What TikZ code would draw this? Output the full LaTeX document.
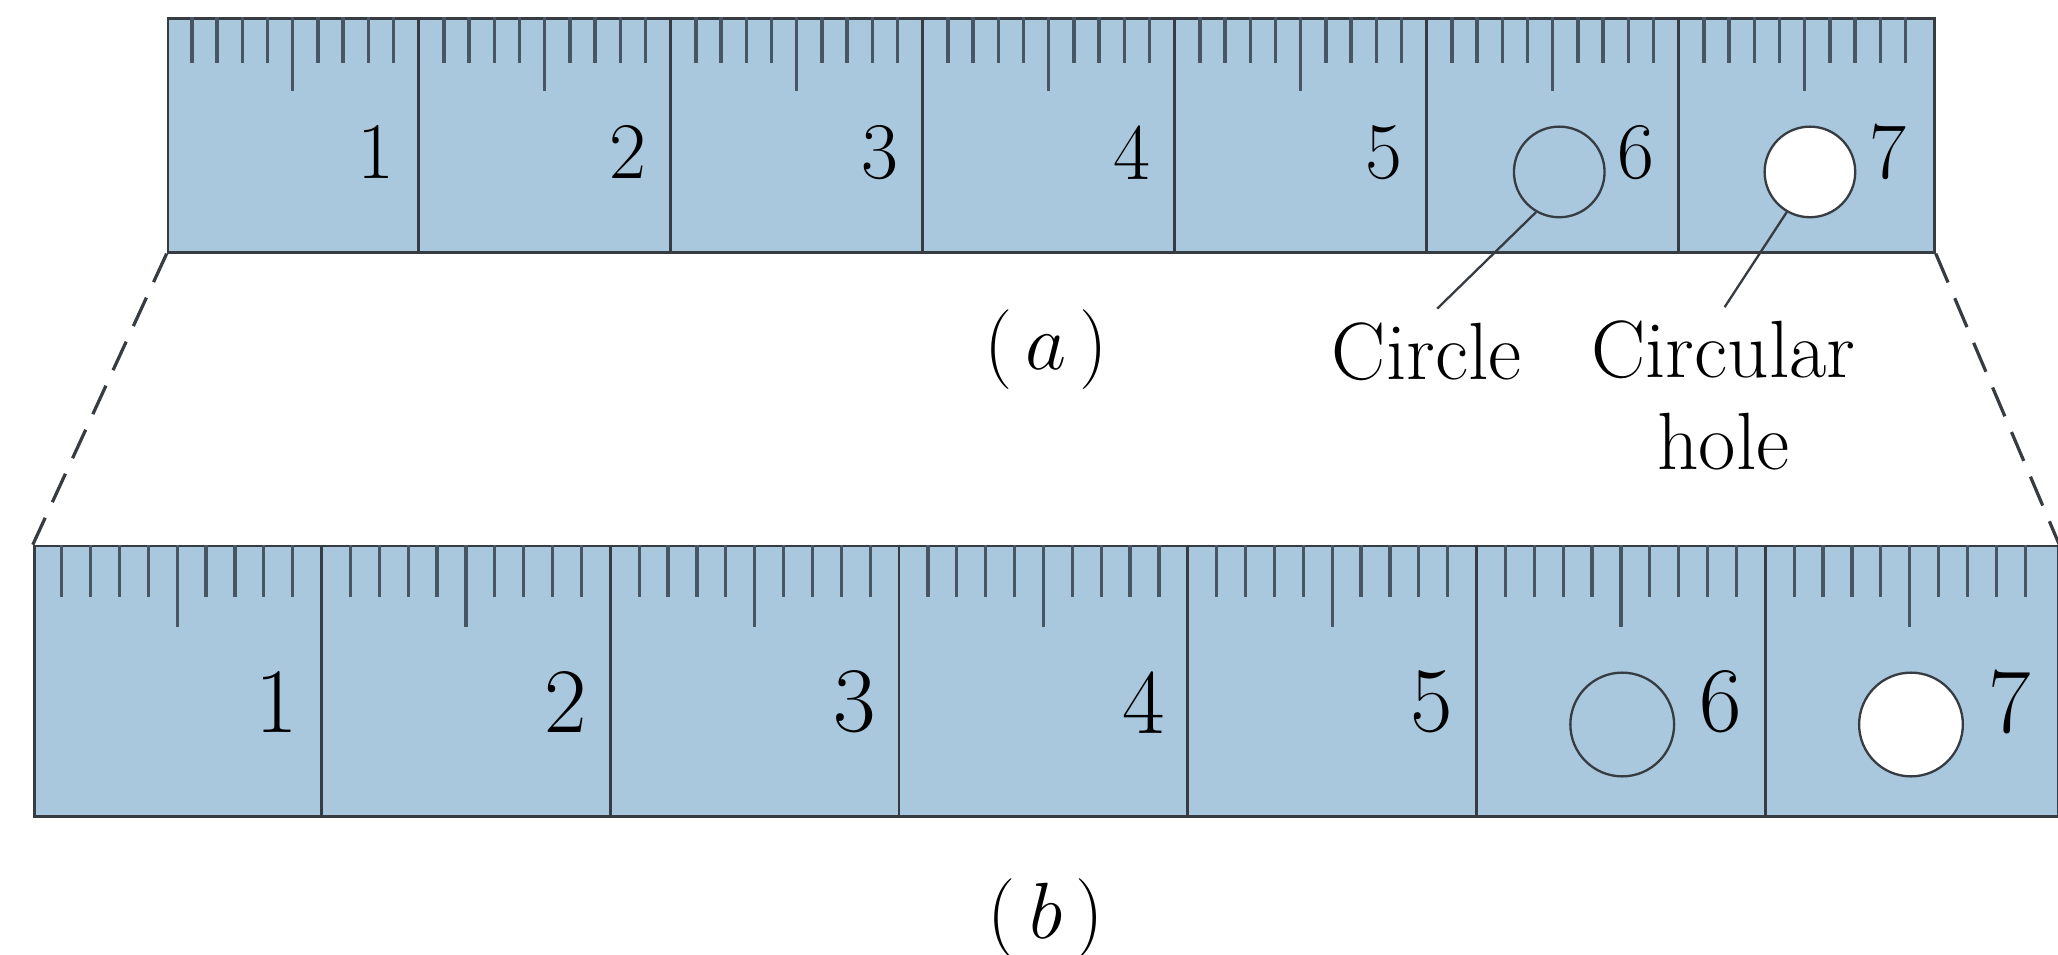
\documentclass[tikz,border=0pt]{standalone}
\usepackage{tikz}
\usetikzlibrary{arrows.meta,positioning,calc}
\definecolor{rulerblue}{RGB}{169,200,221}
\definecolor{rulerline}{RGB}{55,60,66}
\definecolor{tickline}{RGB}{72,86,100}
\tikzset{
    ruler/.style={draw=rulerline, fill=rulerblue, line width=0.6pt, inner sep=0pt, anchor=north west},
    tickmark/.style={draw=tickline, line width=0.7pt},
    divider/.style={draw=rulerline, line width=0.6pt},
    digit/.style={anchor=east, inner sep=0pt, font=\fontsize{#1}{#1}\selectfont},
    spot/.style={draw=rulerline, circle, inner sep=0pt, line width=0.5pt, minimum size=#1},
    lbl/.style={inner sep=0pt, font=\fontsize{17.6}{19.9}\selectfont, align=center},
    leader/.style={draw=rulerline, line width=0.5pt},
    zoomline/.style={draw=rulerline, line width=0.7pt, dash pattern=on 6.8pt off 3.7pt}
}
\begin{document}
\begin{tikzpicture}[x=0.01cm,y=-0.01cm]
            \useasboundingbox (0,0) rectangle (1568,727);
            \node[ruler, minimum width=13.45cm, minimum height=1.78cm] (rulera) at (127,13) {};
            \node[ruler, minimum width=15.41cm, minimum height=2.06cm] (rulerb) at (25,415) {};
            \foreach \i in {0,...,6}{
                    \foreach \j in {1,...,9}{
                            \pgfmathsetmacro\lena{\j==5 ? 56 : 35}
                            \pgfmathsetmacro\lenb{\j==5 ? 63 : 40}
                            \draw[tickmark] ({127+192*\i+19.2*\j},13) -- ++(0,\lena);
                            \draw[tickmark] ({25+220*\i+22*\j},415) -- ++(0,\lenb);
                        }
                }
            \foreach \i in {1,...,6}{
                    \draw[divider] ({127+192*\i},13) -- ({127+192*\i},191);
                    \draw[divider] ({25+220*\i},415) -- ({25+220*\i},621);
                }
            \foreach \i in {1,...,7}{
                    \node[digit=17.4] (numa\i) at ({127+192*\i-18},116) {\i};
                    \node[digit=20] (numb\i) at ({25+220*\i-17},535) {\i};
                }
            \node[spot=0.69cm] (circa) at (1188,131) {};
            \node[spot=0.69cm, fill=white] (holea) at (1379,131) {};
            \node[spot=0.79cm] (circb) at (1236,552) {};
            \node[spot=0.79cm, fill=white] (holeb) at (1456,552) {};
            \node[lbl] (circlelbl) at (1087,268) {Circle};
            \node[lbl, anchor=north] (holelbl) at (1313,244) {Circular\\hole};
            \node[lbl] (capa) at (797,266) {$(\,a\,)$};
            \node[lbl] (capb) at (797,700) {$(\,b\,)$};
            \draw[leader] (circa.240) -- ($(circlelbl.north)+(8,-10)$);
            \draw[leader] (holea.240) -- ($(holelbl.north)+(1,-10)$);
            \draw[zoomline] (rulera.south west) -- (rulerb.north west);
            \draw[zoomline] (rulera.south east) -- (rulerb.north east);
        \end{tikzpicture}
\end{document}
